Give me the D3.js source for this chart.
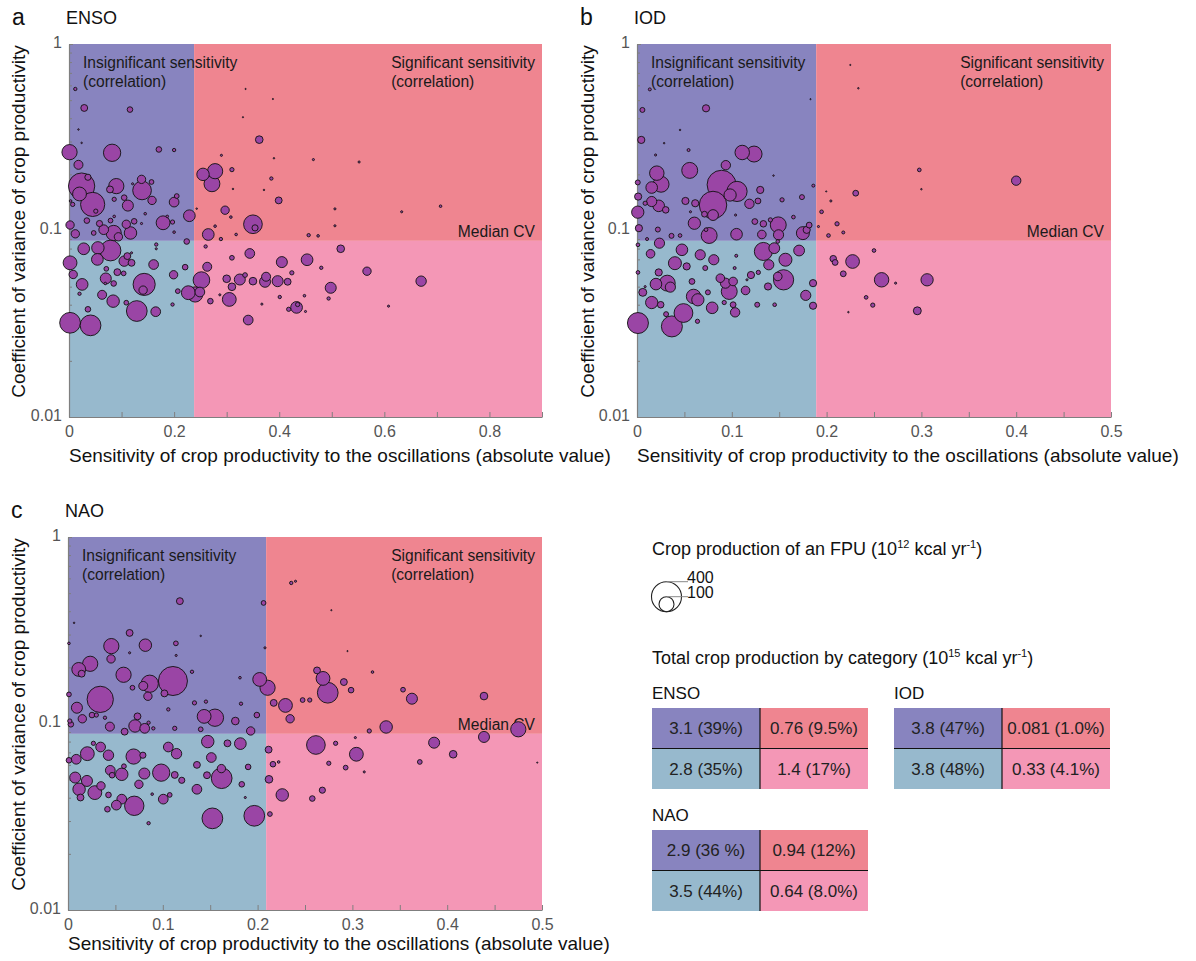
<!DOCTYPE html>
<html>
<head>
<meta charset="utf-8">
<script src="https://cdn.jsdelivr.net/npm/d3@7"></script>
<style>
  body { margin: 0; background: #fff; }
  svg { display: block; }
  text { font-family: "Liberation Sans", Arial, Helvetica, sans-serif; }
</style>
</head>
<body>
<svg id="chart" width="1196" height="961"></svg>
<script>
// ---------------- data ----------------
// ENSO: |sensitivity|, CV of crop productivity, FPU crop production (1e12 kcal/yr)
const ensoSens = [
  0.012,0.029,0.116,0.001,0.082,0.171,0.200,0.018,0.024,0.036,
  0.020,0.045,0.051,0.090,0.078,0.139,0.138,0.157,0.158,0.200,
  0.205,0.112,0.105,0.086,0.002,0.012,0.034,0.058,0.079,0.066,
  0.085,0.117,0.109,0.094,0.124,0.179,0.197,0.229,0.145,0.138,
  0.187,0.200,0.007,0.003,0.086,0.024,0.121,0.018,
  0.028,0.055,0.079,0.002,0.008,0.025,0.054,0.070,0.092,0.105,
  0.111,0.119,0.143,0.141,0.161,0.084,0.063,0.129,0.165,0.199,
  0.221,0.224,0.227,0.002,0.041,0.036,0.109,0.085,0.104,0.071,
  0.166,0.197,0.207,0.020,0.166,0.047,0.069,0.119,
  0.362,0.255,0.278,0.272,0.310,0.290,0.385,0.399,0.297,0.350,
  0.354,0.265,0.278,0.308,0.318,0.465,0.552,0.506,0.633,0.707,
  0.506,0.456,0.474,0.289,0.243,0.312,0.371,0.390,0.388,0.331,0.336,
  0.517,0.567,0.670,0.453,0.405,0.344,0.310,0.263,0.252,0.240,
  0.249,0.300,0.325,0.335,0.350,0.375,0.373,0.397,0.416,0.424,
  0.305,0.310,0.269,0.341,0.433,0.435,0.418,0.401,0.448,0.498,
  0.494,0.480,0.608,0.367,0.450,0.260,0.287
];
const ensoCV = [
  0.574,0.454,0.445,0.263,0.261,0.272,0.270,0.225,0.173,0.193,
  0.157,0.138,0.127,0.173,0.166,0.164,0.188,0.182,0.145,0.142,
  0.153,0.136,0.150,0.147,0.107,0.096,0.113,0.109,0.113,0.101,
  0.097,0.097,0.108,0.0925,0.112,0.110,0.111,0.120,0.123,0.109,
  0.119,0.098,0.138,0.144,0.119,0.295,0.178,0.348,
  0.0798,0.0807,0.0781,0.0671,0.0581,0.0514,0.070,0.0553,0.0598,0.0685,
  0.0729,0.0671,0.0514,0.0479,0.0657,0.0418,0.0452,0.0370,0.0367,0.0579,
  0.0636,0.0873,0.0464,0.0320,0.0310,0.0378,0.0410,0.0520,0.0589,0.0623,
  0.0841,0.0401,0.0473,0.0458,0.0798,0.097,0.052,0.0759,
  0.307,0.200,0.208,0.178,0.212,0.253,0.190,0.145,0.1285,0.108,
  0.1033,0.0952,0.1055,0.118,0.0952,0.240,0.233,0.1306,0.126,0.135,
  0.106,0.0944,0.0936,0.090,0.131,0.167,0.165,0.244,0.507,0.405,0.574,
  0.0798,0.0605,0.0535,0.0697,0.0677,0.0753,0.0714,0.0639,0.0542,0.0454,
  0.0468,0.0551,0.0546,0.0577,0.0535,0.0565,0.0531,0.0535,0.0531,0.0593,
  0.0427,0.0499,0.0418,0.0331,0.0387,0.0401,0.0378,0.0440,0.0447,0.0493,
  0.0432,0.0631,0.0393,0.0403,0.0368,0.0821,0.0452
];
const ensoProd = [
  5,21,14,103,133,14,5,36,307,17,
  85,260,8,103,21,155,31,10,31,42,
  10,54,14,8,31,31,14,17,10,42,
  103,69,31,31,14,85,8,61,3,2,
  3,3,8,3,3,1,2,1,
  61,69,191,85,31,61,61,54,21,48,
  21,21,218,31,42,69,36,191,42,31,
  14,14,85,191,191,14,10,14,10,10,
  5,5,10,5,2,10,3,2,
  26,69,103,112,8,2,5,21,31,155,
  17,61,3,3,3,2,2,2,2,3,
  2,5,3,5,1,1,1,1,0.3,0.3,0.3,
  26,31,48,61,54,42,10,36,123,103,
  42,26,54,10,26,36,54,54,21,8,
  85,26,14,42,61,8,8,5,3,54,
  5,5,2,2,2,5,2
];

// IOD
const iodSens = [
  0.0135,0.0057,0.0728,0.0045,0.111,0.1235,0.0556,0.0937,0.0209,0.0254,
  0.0155,0.0008,0.0012,0.0155,0.0086,0.0229,0.0303,0.0008,0.0892,0.1055,
  0.0982,0.0802,0.0802,0.1186,0.1276,0.130,0.0614,0.0511,0.0605,0.0712,
  0.0761,0.105,0.1243,0.1333,0.149,0.1493,0.1317,0.1407,0.153,0.174,
  0.186,0.165,0.175,0.179,0.1816,0.002,0.022,0.0364,0.0454,0.0106,
  0.0544,0.0728,0.0196,0.0286,0.0454,0.104,0.0564,0.144,0.183,
  0.0237,0.0143,0.0474,0.040,0.0524,0.0667,0.081,0.072,0.001,0.001,
  0.0229,0.0319,0.0352,0.020,0.0061,0.0155,0.025,0.001,0.0368,0.049,
  0.0307,0.0597,0.0642,0.058,0.0748,0.0793,0.0879,0.0933,0.0973,0.1014,
  0.1035,0.1014,0.092,0.0638,0.1145,0.1202,0.128,0.1268,0.1382,0.1452,
  0.1333,0.1448,0.139,0.1485,0.1546,0.1566,0.171,0.178,0.1857,0.1857,
  0.1485,0.1047,0.103,0.116,0.0086,
  0.1914,0.2307,0.2978,0.400,0.1947,0.2045,0.211,0.202,0.2176,0.2335,0.300,0.1996,0.225,
  0.250,0.207,0.209,0.2274,0.2176,0.258,0.306,0.2728,0.2417,0.2487,0.2957,0.223
];
const iodCV = [
  0.571,0.443,0.452,0.306,0.262,0.257,0.210,0.224,0.203,0.177,
  0.170,0.181,0.152,0.143,0.140,0.1356,0.129,0.1254,0.176,0.162,
  0.155,0.137,0.121,0.139,0.144,0.165,0.140,0.144,0.1094,0.1223,
  0.094,0.0955,0.1117,0.1086,0.1072,0.0948,0.0952,0.114,0.146,0.151,
  0.174,0.118,0.0968,0.1008,0.1069,0.1029,0.1012,0.0936,0.094,0.090,
  0.270,0.101,0.254,0.294,0.346,0.121,0.126,0.197,0.506,
  0.0855,0.075,0.0788,0.0668,0.0642,0.0741,0.0697,0.0629,0.0838,0.0596,
  0.0596,0.0522,0.0497,0.0516,0.0466,0.0411,0.040,0.0319,0.0306,0.0361,
  0.0356,0.0443,0.0425,0.0533,0.0466,0.0385,0.0555,0.0522,0.0471,0.0533,
  0.0364,0.040,0.0411,0.0326,0.0477,0.0577,0.0596,0.040,0.0501,0.040,
  0.0772,0.0804,0.0655,0.0567,0.0544,0.0697,0.0781,0.0449,0.0522,0.0395,
  0.0873,0.0732,0.0629,0.0544,0.050,
  0.105,0.1585,0.2113,0.185,0.126,0.144,0.1086,0.094,0.0976,0.579,0.1665,0.162,0.772,
  0.0781,0.0706,0.0674,0.0682,0.0586,0.0544,0.0544,0.0522,0.0438,0.0398,0.0371,0.0365
];
const iodProd = [
  4,11,23,23,93,113,113,39,93,113,
  60,11,23,46,8,60,19,67,372,182,
  67,336,52,39,15,23,23,23,67,15,
  113,60,15,19,113,46,33,8,8,11,
  4,6,75,23,15,23,11,11,6,4,
  4,6,2,1,1,2,2,1,0.3,
  46,33,60,75,23,46,46,11,6,6,
  23,113,46,60,28,67,19,196,196,157,
  11,93,67,15,11,60,33,46,113,33,
  39,15,8,8,33,23,8,11,23,6,
  145,52,46,33,182,75,52,46,23,23,
  6,4,4,2,2,
  2,15,6,39,6,2,8,6,4,1,1,0.3,0.3,
  6,19,15,84,15,93,67,2,6,8,28,1
];

// NAO
const naoSens = [
  0.118,0.065,0.0457,0.0816,0.0454,0.1138,0.001,0.0113,0.0234,0.0144,
  0.0586,0.0862,0.1107,0.0794,0.1017,0.0843,0.034,0.068,0.1308,0.001,
  0.0094,0.0151,0.0253,0.0299,0.0442,0.0597,0.0707,0.0809,0.0733,0.085,
  0.090,0.039,0.0019,0.003,0.1436,0.155,0.1765,0.1992,0.1927,0.140,
  0.2022,0.2105,0.1126,0.1058,0.1455,0.1334,0.1825,0.1814,0.065,0.2063,
  0.2078,0.1141,0.0064,0.140,
  0.0204,0.0087,0.001,0.0344,0.0427,0.0268,0.0692,0.079,0.0076,0.0117,
  0.020,0.0283,0.0348,0.0132,0.0446,0.0567,0.059,0.0465,0.0805,0.0748,
  0.0983,0.1058,0.1145,0.1126,0.120,0.0427,0.0567,0.051,0.0699,0.0416,
  0.1005,0.1073,0.136,0.136,0.1474,0.1512,0.1466,0.1621,0.1618,0.1682,
  0.1818,0.190,0.1833,0.1523,0.1965,0.085,0.213,0.187,0.0888,
  0.2627,0.269,0.274,0.291,0.2986,0.217,0.2294,0.2343,0.2475,0.255,
  0.3356,0.3628,0.3534,0.4388,0.3178,0.3212,0.2355,0.24,0.2778,0.2948,
  0.2615,0.3042,0.3862,0.4063,0.4388,0.475,0.2116,0.2162,0.2222,0.212,
  0.226,0.2577,0.2683,0.2751,0.2823,0.2929,0.3031,0.3125,0.3711,0.495
];
const naoCV = [
  0.453,0.306,0.260,0.263,0.222,0.269,0.269,0.195,0.209,0.185,
  0.1825,0.1634,0.169,0.159,0.145,0.140,0.1347,0.1555,0.1894,0.1432,
  0.1215,0.106,0.111,0.111,0.0962,0.0904,0.0970,0.0942,0.1092,0.101,
  0.0942,0.1074,0.1031,0.099,0.1092,0.1074,0.1031,0.111,0.0912,0.0931,
  0.1723,0.1555,0.0942,0.119,0.131,0.129,0.1277,0.176,0.2394,0.443,
  0.2546,0.2317,0.3465,0.295,
  0.0689,0.0643,0.0635,0.0748,0.0676,0.0783,0.0665,0.0676,0.0513,0.0444,
  0.0492,0.0426,0.0463,0.0401,0.0561,0.0534,0.059,0.0528,0.0539,0.0472,
  0.0545,0.0748,0.0689,0.053,0.0496,0.0414,0.0393,0.0365,0.0362,0.0347,
  0.0393,0.0414,0.0444,0.060,0.080,0.0657,0.0528,0.0509,0.0573,0.0783,
  0.078,0.0585,0.0472,0.031,0.032,0.0292,0.0327,0.0401,0.0418,
  0.1926,0.1745,0.1462,0.1668,0.151,0.129,0.125,0.106,0.1336,0.1336,
  0.0958,0.1358,0.1518,0.1403,0.0912,0.1887,0.567,0.579,0.405,0.2445,
  0.0767,0.0684,0.0789,0.0684,0.0847,0.0931,0.0724,0.0605,0.0622,0.0502,
  0.0414,0.0396,0.0439,0.0612,0.0783,0.058,0.084,0.055,0.0622,0.0617
];
const naoProd = [
  21,21,103,69,31,10,3,85,103,21,
  103,133,375,36,21,31,307,10,5,10,
  54,31,14,8,36,21,69,42,21,5,
  5,5,8,14,85,133,26,14,31,10,
  85,103,8,5,5,8,5,3,2,10,
  2,2,1,1,
  85,42,14,42,48,8,103,17,54,69,
  54,85,31,21,42,69,10,14,54,31,
  133,42,48,21,17,14,42,42,167,14,
  42,10,42,21,69,42,21,191,31,21,
  61,14,14,191,191,5,10,2,3,
  21,85,191,21,14,21,85,31,10,8,
  69,54,10,26,8,3,5,2,0.3,0.3,
  155,85,54,26,54,103,21,14,3,26,
  69,14,17,8,8,10,2,2,10,0.3
];

// category thresholds
const sigThreshold = { ENSO: 0.238, IOD: 0.189, NAO: 0.209 };
const medianCV = { ENSO: 0.088, IOD: 0.088, NAO: 0.088 };

// axis ticks
const ensoXTicks = [0, 0.2, 0.4, 0.6, 0.8];
const pointFiveXTicks = [0, 0.1, 0.2, 0.3, 0.4, 0.5];
const yTickLabels = [0.01, 0.1, 1];

// bubble-size legend values
const legendSizes = [400, 100];

// totals by category (1e15 kcal/yr): [insignificant-high, significant-high, insignificant-low, significant-low]
const tableOscillations = ["ENSO", "IOD", "NAO"];
const ensoTotals = ["3.1 (39%)", "0.76 (9.5%)", "2.8 (35%)", "1.4 (17%)"];
const iodTotals = ["3.8 (47%)", "0.081 (1.0%)", "3.8 (48%)", "0.33 (4.1%)"];
const naoTotals = ["2.9 (36 %)", "0.94 (12%)", "3.5 (44%)", "0.64 (8.0%)"];

// ---------------- drawing ----------------
const COLORS = {
  insigHigh: "#8884bf",
  sigHigh: "#ef8590",
  insigLow: "#97b9cd",
  sigLow: "#f497b6",
  bubble: "#9a45a5",
  axis: "#7f7f7f",
  tick: "#555"
};

const svg = d3.select("#chart");
const rScale = d3.scaleSqrt().domain([0, 400]).range([0, 15]);

const panels = [
  { letter: "a", name: "ENSO", sens: ensoSens, cv: ensoCV, prod: ensoProd,
    xMax: 0.9, xTicks: ensoXTicks, minorStep: 0.1,
    left: 69, top: 44, width: 473, height: 373, yLabelX: 25, xTitleGap: 45 },
  { letter: "b", name: "IOD", sens: iodSens, cv: iodCV, prod: iodProd,
    xMax: 0.5, xTicks: pointFiveXTicks, minorStep: 0.05,
    left: 637, top: 44, width: 474, height: 373, yLabelX: 594, xTitleGap: 45 },
  { letter: "c", name: "NAO", sens: naoSens, cv: naoCV, prod: naoProd,
    xMax: 0.5, xTicks: pointFiveXTicks, minorStep: 0.05,
    left: 68, top: 537, width: 474, height: 373, yLabelX: 25, xTitleGap: 40 }
];

const fmt = d => (d === 0 ? "0" : d3.format("~g")(d));

panels.forEach(p => {
  const x = d3.scaleLinear().domain([0, p.xMax]).range([p.left, p.left + p.width]);
  const y = d3.scaleLog().domain([0.01, 1]).range([p.top + p.height, p.top]);
  const g = svg.append("g");
  const thr = sigThreshold[p.name], med = medianCV[p.name];

  // quadrant backgrounds
  const quads = [
    { x0: 0, x1: thr, y0: med, y1: 1, c: COLORS.insigHigh },
    { x0: thr, x1: p.xMax, y0: med, y1: 1, c: COLORS.sigHigh },
    { x0: 0, x1: thr, y0: 0.01, y1: med, c: COLORS.insigLow },
    { x0: thr, x1: p.xMax, y0: 0.01, y1: med, c: COLORS.sigLow }
  ];
  g.selectAll("rect.quad").data(quads).join("rect")
    .attr("x", d => x(d.x0)).attr("y", d => y(d.y1))
    .attr("width", d => x(d.x1) - x(d.x0)).attr("height", d => y(d.y0) - y(d.y1))
    .attr("fill", d => d.c);

  // quadrant annotations
  const ann = g.append("g").attr("font-size", 15.6).attr("fill", "#1a1a1a");
  ann.append("text").attr("x", p.left + 14).attr("y", p.top + 24).text("Insignificant sensitivity");
  ann.append("text").attr("x", p.left + 14).attr("y", p.top + 43).text("(correlation)");
  const sigText = ann.append("text").attr("y", p.top + 24).text("Significant sensitivity");
  const sigX = p.left + p.width - 7 - sigText.node().getComputedTextLength();
  sigText.attr("x", sigX);
  ann.append("text").attr("x", sigX).attr("y", p.top + 43).text("(correlation)");
  ann.append("text").attr("x", p.left + p.width - 7).attr("y", y(med) - 4)
    .attr("text-anchor", "end").text("Median CV");

  // axes
  const minor = d3.range(0, p.xMax + 1e-9, p.minorStep).map(v => +v.toFixed(3));
  const xAxis = d3.axisBottom(x).tickValues(minor).tickSizeInner(-5).tickSizeOuter(0).tickPadding(9)
    .tickFormat(d => (p.xTicks.some(t => Math.abs(t - d) < 1e-6) ? fmt(d) : ""));
  const gx = g.append("g").attr("transform", `translate(0,${p.top + p.height})`).call(xAxis);

  const yVals = [];
  [0.01, 0.1].forEach(dec => { for (let k = 1; k <= 9; k++) yVals.push(+(dec * k).toPrecision(2)); });
  yVals.push(1);
  const yAxis = d3.axisLeft(y).tickValues(yVals).tickSizeInner(-4).tickSizeOuter(0).tickPadding(7)
    .tickFormat(d => (yTickLabels.includes(d) ? fmt(d) : ""));
  const gy = g.append("g").attr("transform", `translate(${p.left},0)`).call(yAxis);

  [gx, gy].forEach(ax => {
    ax.select(".domain").attr("stroke", COLORS.axis).attr("stroke-width", 1.2);
    ax.selectAll(".tick line").attr("stroke", COLORS.axis).attr("stroke-width", 1);
    ax.selectAll(".tick text").attr("fill", COLORS.tick).attr("font-size", 16)
      .attr("font-family", '"Liberation Sans", Arial, sans-serif');
  });
  gy.selectAll(".tick").filter(d => !yTickLabels.includes(d)).select("line").attr("x2", 3);
  gy.selectAll(".tick").filter(d => yTickLabels.includes(d)).select("text").attr("dy", "0.2em");

  // bubbles
  const pts = p.sens.map((s, i) => ({ s, cv: p.cv[i], v: p.prod[i] }))
    .sort((a, b) => b.v - a.v);
  g.append("g").selectAll("circle").data(pts).join("circle")
    .attr("cx", d => x(d.s)).attr("cy", d => y(d.cv))
    .attr("r", d => Math.max(rScale(d.v), 0.6))
    .attr("fill", COLORS.bubble).attr("stroke", "#111").attr("stroke-width", 0.9);

  // axis titles
  g.append("text").attr("x", p.left).attr("y", p.top + p.height + p.xTitleGap)
    .attr("font-size", 19).attr("fill", "#111")
    .text("Sensitivity of crop productivity to the oscillations (absolute value)");
  g.append("text")
    .attr("transform", `translate(${p.yLabelX},${p.top + p.height / 2 - 9}) rotate(-90)`)
    .attr("text-anchor", "middle").attr("font-size", 19).attr("fill", "#111")
    .text("Coefficient of variance of crop productivity");

  // panel letter and title
  g.append("text").attr("x", p.left - 57).attr("y", p.top - 19).attr("font-size", 23).attr("fill", "#111").text(p.letter);
  g.append("text").attr("x", p.left - 3).attr("y", p.top - 20).attr("font-size", 18).attr("fill", "#111").text(p.name);
});

// ---------------- legend: bubble size ----------------
const leg = svg.append("g").attr("fill", "#111");
function titleWithUnit(parent, y, lead, exp) {
  const t = parent.append("text").attr("x", 652).attr("y", y).attr("font-size", 18);
  t.append("tspan").text(lead + " (10");
  t.append("tspan").attr("font-size", 11).attr("dy", -7).text(exp);
  t.append("tspan").attr("dy", 7).text(" kcal yr");
  t.append("tspan").attr("font-size", 11).attr("dy", -7).text("-1");
  t.append("tspan").attr("dy", 7).text(")");
}
titleWithUnit(leg, 555, "Crop production of an FPU", "12");

const cx = 666.5, baseY = 611.7;
legendSizes.forEach(v => {
  const r = rScale(v);
  leg.append("circle").attr("cx", cx).attr("cy", baseY - r).attr("r", r)
    .attr("fill", "none").attr("stroke", "#222").attr("stroke-width", 1.1);
  leg.append("line").attr("x1", cx).attr("x2", 688).attr("y1", baseY - 2 * r).attr("y2", baseY - 2 * r)
    .attr("stroke", "#888").attr("stroke-width", 1);
  leg.append("text").attr("x", 687).attr("y", baseY - 2 * r + 1).attr("font-size", 16).text(v);
});

// ---------------- legend: totals by category ----------------
titleWithUnit(leg, 664, "Total crop production by category", "15");

const tables = [
  { name: tableOscillations[0], vals: ensoTotals, x: 652, y: 708 },
  { name: tableOscillations[1], vals: iodTotals, x: 894, y: 708 },
  { name: tableOscillations[2], vals: naoTotals, x: 652, y: 830 }
];
const cellW = 108, cellH = 40.5;
const cellColors = [COLORS.insigHigh, COLORS.sigHigh, COLORS.insigLow, COLORS.sigLow];
tables.forEach(t => {
  const tg = leg.append("g");
  tg.append("text").attr("x", t.x).attr("y", t.y - 9).attr("font-size", 17).text(t.name);
  t.vals.forEach((s, i) => {
    const col = i % 2, row = Math.floor(i / 2);
    const x0 = t.x + col * cellW, y0 = t.y + row * cellH;
    tg.append("rect").attr("x", x0).attr("y", y0).attr("width", cellW).attr("height", cellH)
      .attr("fill", cellColors[i]);
    tg.append("text").attr("x", x0 + cellW / 2).attr("y", y0 + cellH / 2 + 6)
      .attr("text-anchor", "middle").attr("font-size", 17).attr("fill", "#222").text(s);
  });
  tg.append("line").attr("x1", t.x + cellW).attr("x2", t.x + cellW).attr("y1", t.y).attr("y2", t.y + 2 * cellH)
    .attr("stroke", "#111").attr("stroke-width", 1.2);
  tg.append("line").attr("x1", t.x).attr("x2", t.x + 2 * cellW).attr("y1", t.y + cellH).attr("y2", t.y + cellH)
    .attr("stroke", "#111").attr("stroke-width", 1.2);
});
</script>
</body>
</html>
